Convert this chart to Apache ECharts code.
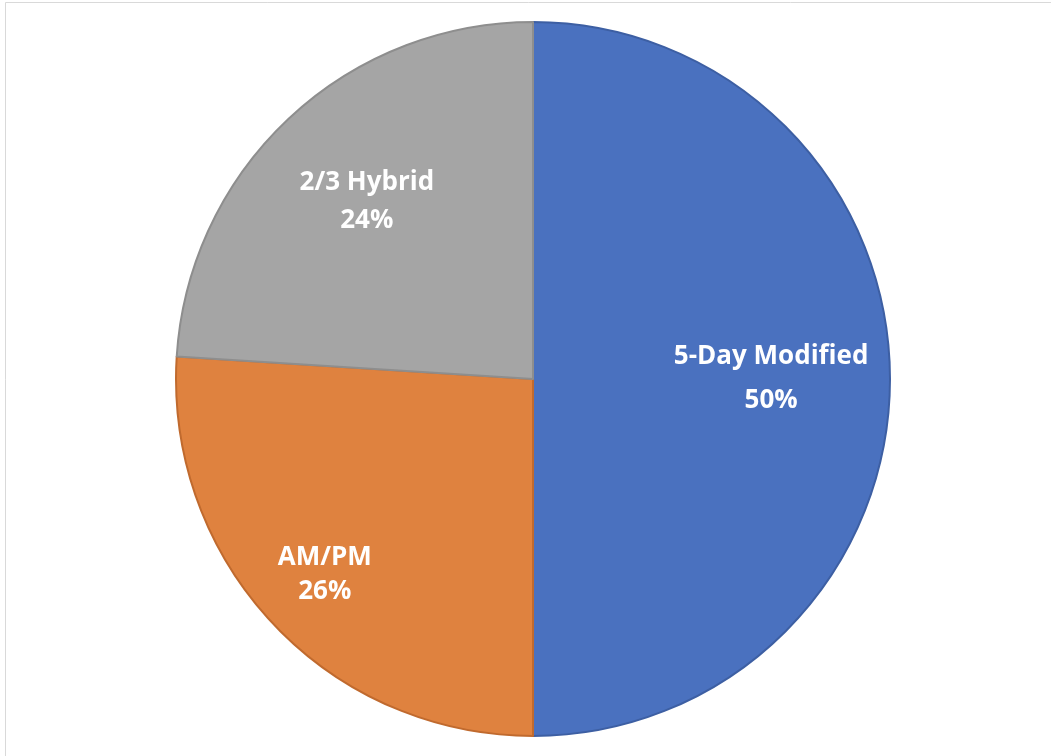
<!DOCTYPE html>
<html>
<head>
<meta charset="utf-8">
<script src="https://cdn.jsdelivr.net/npm/echarts@6/dist/echarts.min.js"></script>
<style>html,body{margin:0;padding:0;background:#fff;}#c{width:1051px;height:756px;}</style>
</head>
<body>
<div id="c"></div>
<script>
const categories = ['5-Day Modified', 'AM/PM', '2/3 Hybrid'];
const values = [50, 26, 24];
const percentLabels = ['50%', '26%', '24%'];

const colors = ['#4A71BF', '#DF823F', '#A5A5A5'];
const borderColors = ['#3D5FA3', '#C06A2E', '#8E8E8E'];
const labelRadiusFrac = [0.667, 0.8, 0.68];
const labelLineHeights = [44, 34, 38];

const CX = 533, CY = 379, R = 357;

const chart = echarts.init(document.getElementById('c'), null, {renderer: 'canvas'});

const total = values.reduce((a, b) => a + b, 0);
const midAngles = [];
let acc = 0;
values.forEach(v => { midAngles.push(Math.PI / 2 - (acc + v / 2) / total * 2 * Math.PI); acc += v; });

chart.setOption({
  backgroundColor: '#ffffff',
  animation: false,
  graphic: [{
    type: 'rect', shape: {x: 5.5, y: 2.5, width: 1100, height: 800},
    style: {fill: 'none', stroke: '#d9d9d9', lineWidth: 1}, z: -1
  }],
  series: [{
    type: 'pie',
    center: [CX, CY],
    radius: [0, R],
    startAngle: 90,
    clockwise: true,
    avoidLabelOverlap: false,
    data: categories.map((c, i) => ({
      name: c,
      value: values[i],
      itemStyle: {color: colors[i], borderColor: borderColors[i], borderWidth: 2},
      label: {lineHeight: labelLineHeights[i]}
    })),
    label: {
      show: true,
      position: 'inside',
      formatter: p => p.name + '\n' + percentLabels[p.dataIndex],
      color: '#ffffff',
      fontFamily: 'Open Sans',
      fontWeight: 'bold',
      fontSize: 26,
      align: 'center'
    },
    labelLayout: function (p) {
      const i = p.dataIndex;
      const a = midAngles[i];
      const d = labelRadiusFrac[i] * R;
      return {x: CX + d * Math.cos(a), y: CY - d * Math.sin(a), align: 'center', verticalAlign: 'middle'};
    },
    emphasis: {disabled: true}
  }]
});
</script>
</body>
</html>
